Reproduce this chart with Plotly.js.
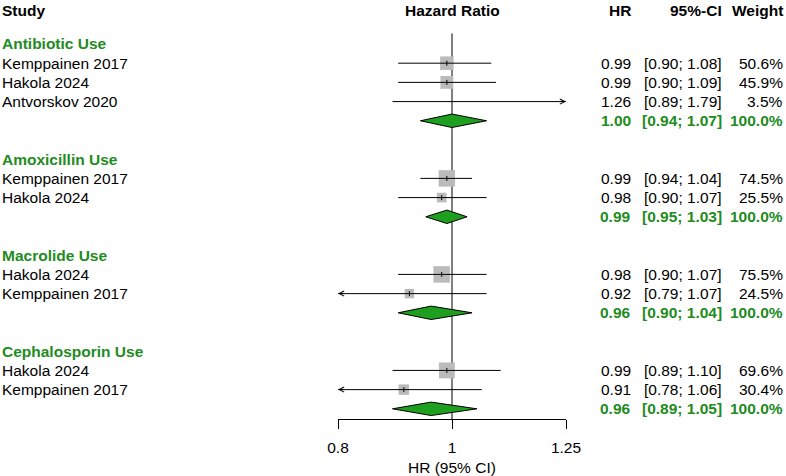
<!DOCTYPE html>
<html>
<head>
<meta charset="utf-8">
<script src="https://cdn.plot.ly/plotly-3.0.1.min.js"></script>
<style>html,body{margin:0;padding:0;background:#fff;}#chart{width:786px;height:476px;}</style>
</head>
<body>
<div id="chart"></div>
<script>
// ---- data ----
const groupNames = ["Antibiotic Use", "Amoxicillin Use", "Macrolide Use", "Cephalosporin Use"];
const studyNames = [
  ["Kemppainen 2017", "Hakola 2024", "Antvorskov 2020"],
  ["Kemppainen 2017", "Hakola 2024"],
  ["Hakola 2024", "Kemppainen 2017"],
  ["Hakola 2024", "Kemppainen 2017"]
];
const studyHR = [[0.99, 0.99, 1.26], [0.99, 0.98], [0.98, 0.92], [0.99, 0.91]];
const studyLo = [[0.90, 0.90, 0.89], [0.94, 0.90], [0.90, 0.79], [0.89, 0.78]];
const studyHi = [[1.08, 1.09, 1.79], [1.04, 1.07], [1.07, 1.07], [1.10, 1.06]];
const studyWeight = [[50.6, 45.9, 3.5], [74.5, 25.5], [75.5, 24.5], [69.6, 30.4]];
const summaryHR = [1.00, 0.99, 0.96, 0.96];
const summaryLo = [0.94, 0.95, 0.90, 0.89];
const summaryHi = [1.07, 1.03, 1.04, 1.05];
const summaryWeight = [100.0, 100.0, 100.0, 100.0];
const tickValues = [0.8, 1, 1.25];
const tickLabels = ["0.8", "1", "1.25"];
const nullValue = 1;

// ---- styling ----
const FONT = "Liberation Sans, Arial, Helvetica, sans-serif";
const FS = 15.5;
const GREEN_TEXT = "#228B22";
const GREEN_FILL = "#1f9f1f";
const SQUARE_COL = "#BBBBBB";
const W = 786, H = 476;
const xMin = tickValues[0], xMax = tickValues[tickValues.length - 1];

// row layout
let row = 1;
const rows = [];
groupNames.forEach((g, gi) => {
  const grp = { header: row++, studies: [], summary: null };
  studyNames[gi].forEach(() => grp.studies.push(row++));
  grp.summary = row++;
  row++; // blank
  rows.push(grp);
});
const headerRow = -0.72;

const annotations = [];
const txt = (text, x, xref, y, anchor, opts = {}) => annotations.push(Object.assign({
  text: text, x: x, xref: xref, y: y, yref: "y", xanchor: anchor, yanchor: "middle",
  showarrow: false, font: { family: FONT, size: FS, color: opts.color || "#000" }
}, opts.extra || {}));

// headers
txt("<b>Study</b>", 0, "paper", headerRow, "left");
txt("<b>Hazard Ratio</b>", Math.log10(nullValue), "x", headerRow, "center");
const colHR = 633 / W, colCI = 724 / W, colW = 785 / W;
txt("<b>HR</b>", colHR, "paper", headerRow, "right");
txt("<b>95%-CI</b>", colCI, "paper", headerRow, "right");
txt("<b>Weight</b>", colW, "paper", headerRow, "right");

const sqX = [], sqY = [], sqS = [];
const tkX = [], tkY = [];
const ciX = [], ciY = [];
const dX = [], dY = [];
const DH = 0.35;

rows.forEach((grp, gi) => {
  txt("<b>" + groupNames[gi] + "</b>", 0, "paper", grp.header, "left", { color: GREEN_TEXT });
  grp.studies.forEach((r, si) => {
    const hr = studyHR[gi][si], lo = studyLo[gi][si], hi = studyHi[gi][si], w = studyWeight[gi][si];
    txt(studyNames[gi][si], 0, "paper", r, "left");
    txt(hr.toFixed(2), colHR, "paper", r, "right");
    txt("[" + lo.toFixed(2) + "; " + hi.toFixed(2) + "]", colCI, "paper", r, "right");
    txt(w.toFixed(1) + "%", colW, "paper", r, "right");
    if (hr >= xMin && hr <= xMax) {
      sqX.push(hr); sqY.push(r); sqS.push(1.9 * Math.sqrt(w));
      tkX.push(hr); tkY.push(r);
    }
    const a = Math.max(lo, xMin), b = Math.min(hi, xMax);
    ciX.push(a, b, null); ciY.push(r, r, null);
    if (hi > xMax) annotations.push({ x: Math.log10(xMax), y: r, xref: "x", yref: "y", ax: -7, ay: 0, text: "",
      showarrow: true, arrowhead: 5, arrowsize: 1, arrowwidth: 1, arrowcolor: "#000" });
    if (lo < xMin) annotations.push({ x: Math.log10(xMin), y: r, xref: "x", yref: "y", ax: 7, ay: 0, text: "",
      showarrow: true, arrowhead: 5, arrowsize: 1, arrowwidth: 1, arrowcolor: "#000" });
  });
  const r = grp.summary;
  const sh = summaryHR[gi], sl = summaryLo[gi], su = summaryHi[gi];
  dX.push(sl, sh, su, sh, sl, null);
  dY.push(r, r - DH, r, r + DH, r, null);
  const opt = { color: GREEN_TEXT };
  txt("<b>" + sh.toFixed(2) + "</b>", colHR, "paper", r, "right", opt);
  txt("<b>[" + sl.toFixed(2) + "; " + su.toFixed(2) + "]</b>", colCI, "paper", r, "right", opt);
  txt("<b>" + summaryWeight[gi].toFixed(1) + "%</b>", colW, "paper", r, "right", opt);
});

const yBottom = 20.53, yTop = -1.29;

// axis title
annotations.push({ text: "HR (95% CI)", x: Math.log10(nullValue), xref: "x", y: 0, yref: "paper",
  xanchor: "center", yanchor: "top", yshift: -38, showarrow: false,
  font: { family: FONT, size: FS, color: "#000" } });

const traces = [
  { x: [nullValue, nullValue], y: [0.45, yBottom], mode: "lines", line: { color: "#000", width: 1 }, hoverinfo: "skip" },
  { x: sqX, y: sqY, mode: "markers", marker: { symbol: "square", size: sqS, color: SQUARE_COL, opacity: 1, line: { width: 0 } }, hoverinfo: "skip" },
  { x: ciX, y: ciY, mode: "lines", line: { color: "#000", width: 1 }, hoverinfo: "skip", connectgaps: false },
  { x: tkX, y: tkY, mode: "markers", marker: { symbol: "line-ns", size: 3.6, color: "#000", line: { color: "#000", width: 1 } }, hoverinfo: "skip" },
  { x: dX, y: dY, mode: "lines", fill: "toself", fillcolor: GREEN_FILL, line: { color: "#000", width: 1 }, hoverinfo: "skip" }
];

const layout = {
  width: W, height: H,
  margin: { l: 0, r: 0, t: 0, b: 57, pad: 0 },
  paper_bgcolor: "#fff", plot_bgcolor: "rgba(0,0,0,0)",
  showlegend: false,
  xaxis: {
    type: "log", range: [Math.log10(xMin), Math.log10(xMax)], domain: [338 / W, 566 / W],
    showgrid: false, zeroline: false, showline: true, linecolor: "#000", linewidth: 1,
    ticks: "outside", ticklen: 9, tickwidth: 1, tickcolor: "#000",
    tickmode: "array", tickvals: tickValues, ticktext: tickLabels, ticklabelstandoff: 5,
    tickfont: { family: FONT, size: FS, color: "#000" }, fixedrange: true
  },
  yaxis: { range: [yBottom, yTop], visible: false, fixedrange: true },
  annotations: annotations
};

Plotly.newPlot("chart", traces, layout, { displayModeBar: false, staticPlot: true });
</script>
</body>
</html>
